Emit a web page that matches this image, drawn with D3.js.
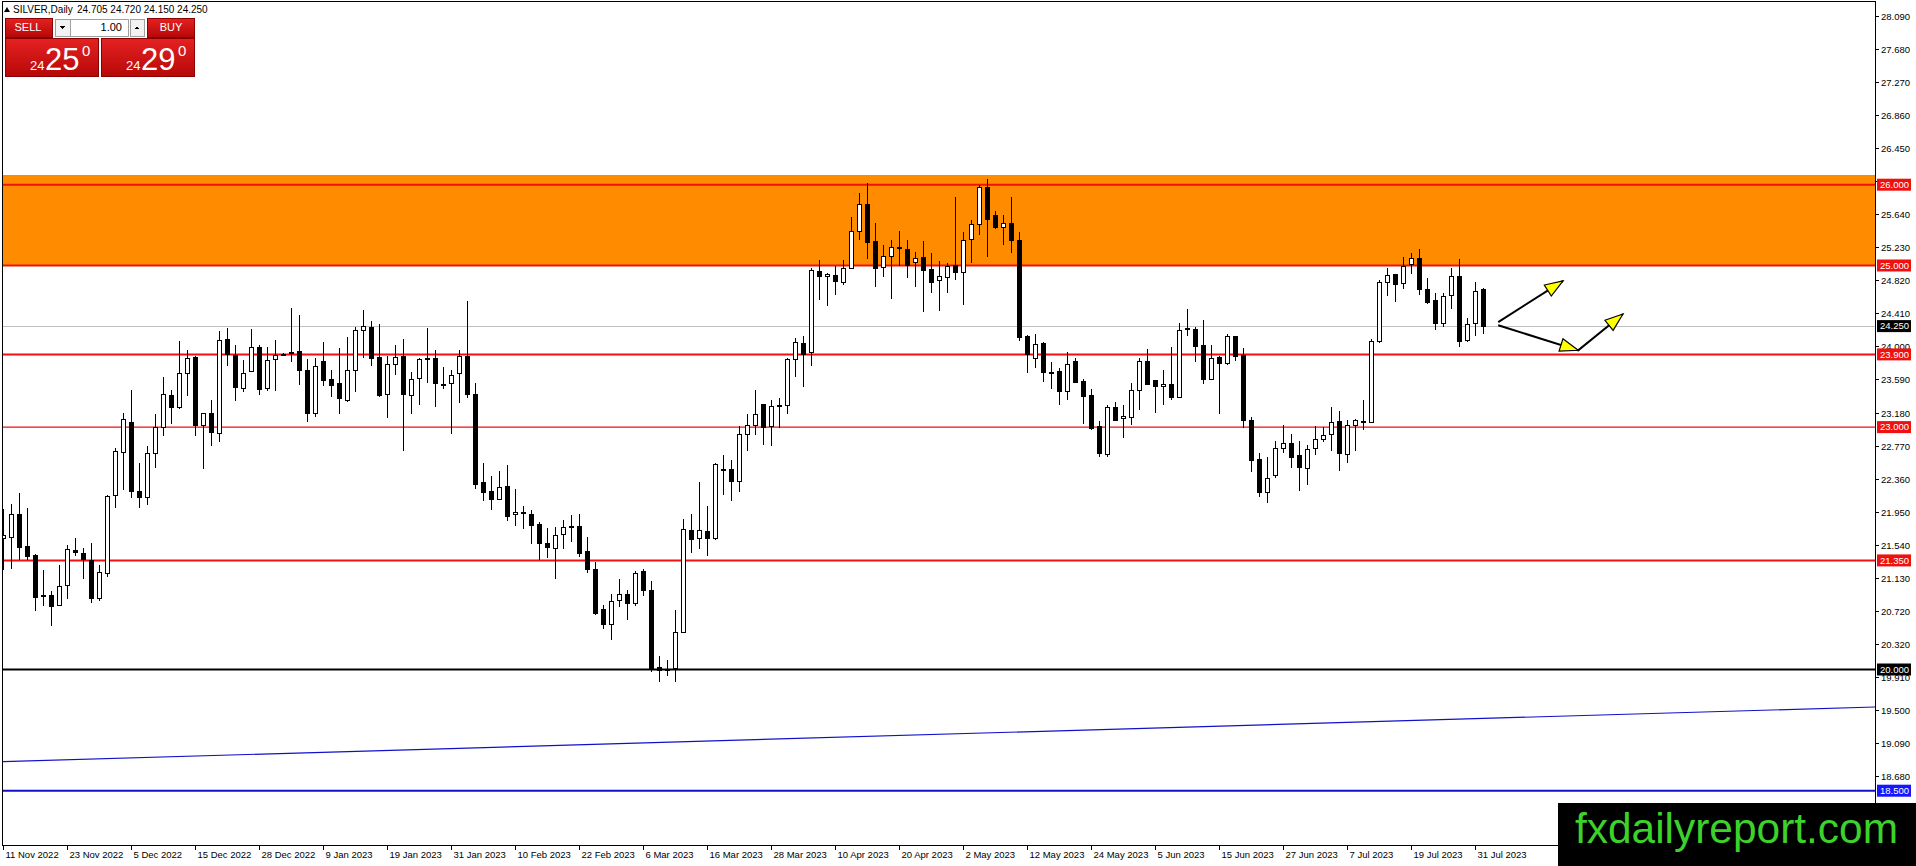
<!DOCTYPE html>
<html>
<head>
<meta charset="utf-8">
<script src="https://cdn.jsdelivr.net/npm/d3@7"></script>
<style>
  html, body { margin: 0; padding: 0; background: #ffffff; overflow: hidden; }
  svg { display: block; font-family: "Liberation Sans", Arial, sans-serif; }
</style>
</head>
<body>
<script>
// ---- data ----
const opens = [
  21.62, 21.64, 21.92, 21.53, 21.42, 20.92, 20.92, 20.79, 21.04, 21.48,
  21.44, 21.36, 20.89, 21.20, 22.15, 22.69, 23.06, 22.21, 22.14, 22.68,
  23.00, 23.40, 23.25, 23.67, 23.87, 23.02, 23.17, 22.93, 24.09, 23.89,
  23.49, 23.69, 23.99, 23.48, 23.84, 23.905, 23.93, 23.94, 23.71, 23.18,
  23.82, 23.60, 23.54, 23.34, 23.70, 24.20, 24.24, 23.87, 23.41, 23.78,
  23.88, 23.40, 23.60, 23.855, 23.86, 23.535, 23.55, 23.67, 23.88, 23.41,
  22.32, 22.21, 22.11, 22.27, 21.92, 21.945, 21.93, 21.80, 21.56, 21.51,
  21.67, 21.765, 21.78, 21.47, 21.25, 20.75, 20.56, 20.85, 20.94, 20.83,
  21.22, 20.99, 20.035, 20.00, 20.01, 20.47, 21.73, 21.63, 21.71, 21.63,
  22.485, 22.48, 22.34, 22.92, 23.03, 23.29, 23.01, 23.27, 23.27, 23.84,
  24.04, 23.92, 24.93, 24.87, 24.88, 24.80, 24.97, 25.43, 25.76, 25.30,
  24.98, 25.12, 25.225, 25.21, 25.04, 25.10, 24.96, 24.82, 24.86, 25.01,
  24.93, 25.32, 25.51, 25.97, 25.63, 25.48, 25.53, 25.32, 24.13, 23.86,
  24.04, 23.678, 23.69, 23.44, 23.82, 23.57, 23.40, 23.01, 22.67, 23.25,
  23.11, 23.13, 23.46, 23.82, 23.58, 23.51, 23.53, 23.37, 24.222, 24.22,
  24.02, 23.60, 23.87, 23.80, 24.13, 23.89, 23.09, 22.61, 22.20, 22.41,
  22.74, 22.80, 22.66, 22.50, 22.74, 22.85, 22.91, 23.08, 22.67, 23.03,
  23.072, 23.07, 24.07, 24.79, 24.90, 24.78, 25.01, 25.09, 24.71, 24.57,
  24.29, 24.63, 24.87, 24.07, 24.30, 24.705
];
const highs = [
  21.99, 22.05, 22.19, 22.00, 21.43, 21.23, 20.97, 21.29, 21.54, 21.63,
  21.50, 21.57, 21.29, 22.16, 22.74, 23.18, 23.46, 22.56, 22.77, 23.16,
  23.62, 23.46, 24.07, 23.96, 23.88, 23.18, 23.34, 24.19, 24.23, 24.02,
  23.83, 24.22, 24.02, 23.99, 24.08, 23.915, 24.47, 24.39, 23.84, 23.85,
  24.05, 23.71, 23.98, 24.12, 24.24, 24.45, 24.31, 24.28, 23.88, 24.02,
  24.09, 23.68, 23.86, 24.23, 23.96, 23.74, 23.71, 23.96, 24.56, 23.54,
  22.56, 22.40, 22.46, 22.53, 22.23, 22.02, 21.97, 21.82, 21.75, 21.76,
  21.85, 21.91, 21.92, 21.64, 21.33, 20.80, 20.94, 21.12, 20.98, 21.22,
  21.25, 21.09, 20.17, 20.12, 20.74, 21.86, 21.93, 22.32, 22.02, 22.56,
  22.66, 22.59, 23.01, 23.16, 23.46, 23.29, 23.33, 23.36, 23.85, 24.10,
  24.13, 24.97, 25.07, 24.91, 24.99, 25.07, 25.60, 25.90, 26.02, 25.53,
  25.25, 25.32, 25.43, 25.32, 25.17, 25.30, 25.15, 25.06, 25.03, 25.85,
  25.42, 25.56, 26.00, 26.07, 25.67, 25.63, 25.85, 25.41, 24.14, 24.15,
  24.05, 23.81, 23.73, 23.93, 23.86, 23.60, 23.47, 23.08, 23.27, 23.31,
  23.27, 23.55, 23.86, 23.97, 23.58, 23.71, 23.99, 24.29, 24.46, 24.24,
  24.33, 24.02, 23.88, 24.15, 24.13, 23.98, 23.12, 22.68, 22.63, 22.83,
  23.03, 22.92, 22.83, 22.78, 23.01, 23.00, 23.25, 23.20, 23.09, 23.10,
  23.34, 24.09, 24.82, 24.97, 24.90, 25.11, 25.16, 25.21, 24.85, 24.66,
  24.66, 24.97, 25.08, 24.35, 24.80, 24.72
];
const lows = [
  21.23, 21.25, 21.36, 21.36, 20.72, 20.79, 20.54, 20.78, 20.87, 21.41,
  21.12, 20.82, 20.85, 21.15, 22.00, 22.22, 22.12, 22.00, 22.04, 22.50,
  22.89, 23.04, 23.22, 23.38, 22.89, 22.48, 22.77, 22.82, 23.76, 23.32,
  23.44, 23.68, 23.40, 23.45, 23.45, 23.90, 23.81, 23.52, 23.06, 23.13,
  23.51, 23.37, 23.16, 23.31, 23.44, 23.86, 23.76, 23.37, 23.11, 23.65,
  22.70, 23.16, 23.27, 23.54, 23.25, 23.47, 22.91, 23.30, 23.36, 22.23,
  22.08, 21.97, 22.10, 21.84, 21.77, 21.74, 21.55, 21.36, 21.38, 21.12,
  21.49, 21.58, 21.39, 21.20, 20.67, 20.50, 20.36, 20.77, 20.61, 20.79,
  20.91, 19.97, 19.85, 19.92, 19.84, 20.46, 21.44, 21.49, 21.41, 21.60,
  22.16, 22.09, 22.20, 22.70, 22.90, 22.78, 22.77, 22.99, 23.16, 23.62,
  23.50, 23.76, 24.57, 24.50, 24.64, 24.76, 24.96, 25.32, 25.08, 24.74,
  24.86, 24.58, 25.00, 24.84, 24.73, 24.43, 24.66, 24.44, 24.66, 24.82,
  24.51, 25.03, 25.38, 25.10, 25.45, 25.25, 25.16, 24.07, 23.67, 23.73,
  23.56, 23.47, 23.27, 23.33, 23.54, 23.04, 22.96, 22.63, 22.63, 23.08,
  22.86, 23.03, 23.21, 23.53, 23.18, 23.27, 23.34, 23.36, 24.13, 23.81,
  23.53, 23.59, 23.16, 23.77, 23.82, 22.99, 22.44, 22.13, 22.06, 22.37,
  22.68, 22.50, 22.21, 22.28, 22.66, 22.81, 22.71, 22.46, 22.56, 22.70,
  22.96, 23.05, 24.04, 24.62, 24.55, 24.71, 24.90, 24.64, 24.52, 24.20,
  24.24, 24.46, 23.99, 24.05, 24.13, 24.15
];
const closes = [
  21.66, 21.93, 21.51, 21.41, 20.90, 20.91, 20.79, 21.03, 21.49, 21.45,
  21.36, 20.89, 21.21, 22.15, 22.70, 23.10, 22.20, 22.13, 22.68, 23.00,
  23.41, 23.25, 23.67, 23.86, 23.03, 23.17, 22.93, 24.08, 23.90, 23.50,
  23.67, 23.99, 23.47, 23.83, 23.89, 23.91, 23.935, 23.70, 23.18, 23.76,
  23.58, 23.52, 23.35, 23.71, 24.20, 24.25, 23.86, 23.40, 23.78, 23.87,
  23.41, 23.60, 23.84, 23.86, 23.55, 23.53, 23.65, 23.88, 23.41, 22.29,
  22.20, 22.11, 22.26, 21.90, 21.945, 21.935, 21.80, 21.56, 21.51, 21.67,
  21.76, 21.77, 21.45, 21.25, 20.70, 20.56, 20.85, 20.93, 20.83, 21.20,
  20.99, 20.02, 20.00, 20.01, 20.46, 21.74, 21.62, 21.73, 21.62, 22.54,
  22.48, 22.33, 22.92, 23.03, 23.16, 23.01, 23.26, 23.278, 23.84, 24.05,
  23.91, 24.94, 24.87, 24.90, 24.80, 24.97, 25.43, 25.76, 25.29, 24.97,
  25.12, 25.23, 25.218, 25.01, 25.09, 24.94, 24.80, 24.87, 24.99, 24.92,
  25.32, 25.51, 25.97, 25.58, 25.48, 25.53, 25.32, 24.12, 23.91, 24.03,
  23.68, 23.682, 23.44, 23.78, 23.56, 23.38, 22.99, 22.67, 23.25, 23.09,
  23.14, 23.46, 23.82, 23.54, 23.51, 23.53, 23.37, 24.20, 24.216, 24.01,
  23.60, 23.86, 23.80, 24.13, 23.88, 23.09, 22.60, 22.20, 22.37, 22.74,
  22.80, 22.63, 22.51, 22.73, 22.85, 22.90, 23.06, 22.68, 23.03, 23.09,
  23.066, 24.07, 24.80, 24.88, 24.78, 24.99, 25.09, 24.71, 24.55, 24.29,
  24.62, 24.87, 24.06, 24.27, 24.69, 24.25
];

// time axis: one label every 8 bars
const dateLabels = [
  "11 Nov 2022", "23 Nov 2022", "5 Dec 2022", "15 Dec 2022", "28 Dec 2022",
  "9 Jan 2023", "19 Jan 2023", "31 Jan 2023", "10 Feb 2023", "22 Feb 2023",
  "6 Mar 2023", "16 Mar 2023", "28 Mar 2023", "10 Apr 2023", "20 Apr 2023",
  "2 May 2023", "12 May 2023", "24 May 2023", "5 Jun 2023", "15 Jun 2023",
  "27 Jun 2023", "7 Jul 2023", "19 Jul 2023", "31 Jul 2023"
];
const dateLabelBars = [
  0, 8, 16, 24, 32, 40, 48, 56, 64, 72, 80, 88,
  96, 104, 112, 120, 128, 136, 144, 152, 160, 168, 176, 184
];

// price axis
const priceTicks = [
  28.09, 27.68, 27.27, 26.86, 26.45, 26.04, 25.64, 25.23, 24.82, 24.41,
  24.00, 23.59, 23.18, 22.77, 22.36, 21.95, 21.54, 21.13, 20.72, 20.32,
  19.91, 19.50, 19.09, 18.68, 18.27
];

// drawn objects
const redLevels = [26.0, 25.0, 23.9, 23.0, 21.35];
const blackLevels = [20.0];
const blueLevels = [18.5];
const zoneRange = [25.0, 26.12];
const trendLine = [[0, 18.86], [234, 19.536]];
const arrowUp = [[186.9, 24.30], [195.0, 24.81]];
const arrowDownUp = [[186.9, 24.26], [196.9, 23.95], [202.5, 24.40]];
const lastPrice = 24.25;

const symbolName = "SILVER,Daily";
const sellQuote = ["24", "25", "0"];
const buyQuote = ["24", "29", "0"];
const lotSize = "1.00";

// ---- layout ----
const W = 1916, H = 866;
const plotLeft = 3, plotRight = 1875, plotTop = 2, plotBottom = 845;
const RED = "#f01010", BLUE = "#1010c8", ORANGE = "#ff8c00";

const x = d3.scaleLinear().domain([0, 234]).range([3, 1875]);
const y = d3.scaleLinear().domain([25, 20]).range([265.5, 669.5]);

const svg = d3.select("body").append("svg")
  .attr("width", W).attr("height", H)
  .attr("viewBox", [0, 0, W, H]);

svg.append("rect").attr("width", W).attr("height", H).attr("fill", "#fff");

svg.append("defs").append("clipPath").attr("id", "plot")
  .append("rect")
  .attr("x", plotLeft).attr("y", plotTop)
  .attr("width", plotRight - plotLeft).attr("height", plotBottom - plotTop);

const plot = svg.append("g").attr("clip-path", "url(#plot)");

// orange resistance zone
plot.append("rect")
  .attr("x", plotLeft).attr("width", plotRight - plotLeft)
  .attr("y", y(zoneRange[1]))
  .attr("height", y(zoneRange[0]) - y(zoneRange[1]))
  .attr("fill", ORANGE);

// current price line
plot.append("line")
  .attr("x1", plotLeft).attr("x2", plotRight)
  .attr("y1", Math.round(y(lastPrice)) + 0.5).attr("y2", Math.round(y(lastPrice)) + 0.5)
  .attr("stroke", "#c0c0c0").attr("stroke-width", 1);

// horizontal levels
function hLine(p, color, width) {
  plot.append("line")
    .attr("x1", plotLeft).attr("x2", plotRight)
    .attr("y1", y(p)).attr("y2", y(p))
    .attr("stroke", color).attr("stroke-width", width);
}
redLevels.forEach((p) => hLine(p, RED, p === 23.0 ? 1.2 : 2));
blackLevels.forEach((p) => hLine(p, "#000", 2));
blueLevels.forEach((p) => hLine(p, BLUE, 2));

// trend line
plot.append("line")
  .attr("x1", x(trendLine[0][0])).attr("y1", y(trendLine[0][1]))
  .attr("x2", x(trendLine[1][0])).attr("y2", y(trendLine[1][1]))
  .attr("stroke", BLUE).attr("stroke-width", 1.2);

// candles
const bars = d3.range(opens.length).map((i) => ({
  i, o: opens[i], h: highs[i], l: lows[i], c: closes[i]
}));

const candles = plot.append("g")
  .attr("shape-rendering", "crispEdges")
  .selectAll("g").data(bars).join("g");

candles.append("line")
  .attr("x1", (d) => Math.round(x(d.i)) + 0.5)
  .attr("x2", (d) => Math.round(x(d.i)) + 0.5)
  .attr("y1", (d) => y(d.h)).attr("y2", (d) => y(d.l))
  .attr("stroke", "#000").attr("stroke-width", 1);

candles.append("rect")
  .attr("x", (d) => Math.round(x(d.i)) - 1.5)
  .attr("width", 4)
  .attr("y", (d) => Math.round(y(Math.max(d.o, d.c))) + 0.5)
  .attr("height", (d) => Math.max(1, Math.round(y(Math.min(d.o, d.c)) - y(Math.max(d.o, d.c)))))
  .attr("fill", (d) => (d.c >= d.o ? "#fff" : "#000"))
  .attr("stroke", "#000").attr("stroke-width", 1);

// arrows
function arrow(points) {
  const line = d3.line().x((d) => x(d[0])).y((d) => y(d[1]));
  plot.append("path").attr("d", line(points))
    .attr("fill", "none").attr("stroke", "#000").attr("stroke-width", 2);
  for (let k = 1; k < points.length; k++) {
    const x0 = x(points[k - 1][0]), y0 = y(points[k - 1][1]);
    const x1 = x(points[k][0]), y1 = y(points[k][1]);
    const a = Math.atan2(y1 - y0, x1 - x0);
    const len = 18, half = 6.5;
    const bx = x1 - len * Math.cos(a), by = y1 - len * Math.sin(a);
    const pts = [
      [x1, y1],
      [bx + half * Math.sin(a), by - half * Math.cos(a)],
      [bx - half * Math.sin(a), by + half * Math.cos(a)]
    ];
    plot.append("polygon").attr("points", pts.map((p) => p.join(",")).join(" "))
      .attr("fill", "#ffff00").attr("stroke", "#000").attr("stroke-width", 1.2);
  }
}
arrow(arrowUp);
arrow(arrowDownUp);

// frame
svg.append("g").attr("shape-rendering", "crispEdges")
  .call((g) => {
    g.append("line").attr("x1", 2.5).attr("x2", 2.5).attr("y1", 1).attr("y2", plotBottom + 0.5).attr("stroke", "#000");
    g.append("line").attr("x1", 2).attr("x2", plotRight + 0.5).attr("y1", 1.5).attr("y2", 1.5).attr("stroke", "#000");
    g.append("line").attr("x1", plotRight + 0.5).attr("x2", plotRight + 0.5).attr("y1", 1).attr("y2", plotBottom + 1).attr("stroke", "#000");
    g.append("line").attr("x1", 2).attr("x2", plotRight + 1).attr("y1", plotBottom + 0.5).attr("y2", plotBottom + 0.5).attr("stroke", "#000");
  });

// price axis
const priceAxis = svg.append("g");
priceTicks.forEach((p) => {
  const py = Math.round(y(p)) + 0.5;
  priceAxis.append("line").attr("x1", plotRight).attr("x2", plotRight + 4)
    .attr("y1", py).attr("y2", py).attr("stroke", "#000").attr("shape-rendering", "crispEdges");
  priceAxis.append("text").attr("x", plotRight + 6).attr("y", py).attr("dy", "0.35em")
    .attr("font-size", 9.5).attr("fill", "#000").text(p.toFixed(3));
});

// price tags for the drawn levels (drawn over the tick labels, as in the terminal)
function priceTag(p, bg) {
  const py = y(p);
  priceAxis.append("rect").attr("x", plotRight + 2).attr("y", py - 6)
    .attr("width", 34).attr("height", 12).attr("fill", bg);
  priceAxis.append("text").attr("x", plotRight + 5).attr("y", py).attr("dy", "0.35em")
    .attr("font-size", 9.5).attr("fill", "#fff").text(p.toFixed(3));
}
redLevels.forEach((p) => priceTag(p, RED));
blackLevels.forEach((p) => priceTag(p, "#000"));
blueLevels.forEach((p) => priceTag(p, "#1515ff"));
priceTag(lastPrice, "#000");

// time axis
const timeAxis = svg.append("g");
dateLabelBars.forEach((b, k) => {
  const tx = Math.round(x(b)) + 0.5;
  timeAxis.append("line").attr("x1", tx).attr("x2", tx)
    .attr("y1", plotBottom).attr("y2", plotBottom + 5)
    .attr("stroke", "#000").attr("shape-rendering", "crispEdges");
  timeAxis.append("text").attr("x", tx + 2).attr("y", plotBottom + 13)
    .attr("font-size", 9.5).attr("fill", "#000").text(dateLabels[k]);
});

// header
const last = opens.length - 1;
svg.append("polygon").attr("points", "4,12 7,7 10,12").attr("fill", "#000");
svg.append("text").attr("x", 13).attr("y", 13).attr("font-size", 10).attr("fill", "#000")
  .text(symbolName);
svg.append("text").attr("x", 77).attr("y", 13).attr("font-size", 10).attr("fill", "#000")
  .text([opens[last], highs[last], lows[last], closes[last]].map((v) => v.toFixed(3)).join(" "));

// one-click trading panel
const grad = svg.select("defs").append("linearGradient")
  .attr("id", "redGrad").attr("x1", 0).attr("x2", 0).attr("y1", 0).attr("y2", 1);
grad.append("stop").attr("offset", 0).attr("stop-color", "#e52222");
grad.append("stop").attr("offset", 1).attr("stop-color", "#b80808");

const panel = svg.append("g").attr("shape-rendering", "crispEdges");
panel.append("rect").attr("x", 5).attr("y", 18).attr("width", 47).attr("height", 19)
  .attr("fill", "url(#redGrad)").attr("stroke", "#8a0000");
panel.append("text").attr("x", 28).attr("y", 31).attr("text-anchor", "middle")
  .attr("font-size", 11).attr("fill", "#fff").text("SELL");
panel.append("rect").attr("x", 55).attr("y", 19).attr("width", 15).attr("height", 17)
  .attr("fill", "#f2f2f2").attr("stroke", "#a0a0a0");
panel.append("polygon").attr("points", "60,26 65,26 62.5,29").attr("fill", "#000");
panel.append("rect").attr("x", 70).attr("y", 19).attr("width", 58).attr("height", 17)
  .attr("fill", "#fff").attr("stroke", "#a0a0a0");
panel.append("text").attr("x", 122).attr("y", 31).attr("text-anchor", "end")
  .attr("font-size", 11).attr("fill", "#000").text(lotSize);
panel.append("rect").attr("x", 130).attr("y", 19).attr("width", 14).attr("height", 17)
  .attr("fill", "#f2f2f2").attr("stroke", "#a0a0a0");
panel.append("polygon").attr("points", "134.5,29 139.5,29 137,26").attr("fill", "#000");
panel.append("rect").attr("x", 147).attr("y", 18).attr("width", 47).attr("height", 19)
  .attr("fill", "url(#redGrad)").attr("stroke", "#8a0000");
panel.append("text").attr("x", 171).attr("y", 31).attr("text-anchor", "middle")
  .attr("font-size", 11).attr("fill", "#fff").text("BUY");

function quoteBox(x0, q) {
  panel.append("rect").attr("x", x0).attr("y", 38).attr("width", 93).attr("height", 38)
    .attr("fill", "url(#redGrad)").attr("stroke", "#8a0000");
  svg.append("text").attr("x", x0 + 25).attr("y", 70).attr("font-size", 13)
    .attr("fill", "#fff").text(q[0]);
  svg.append("text").attr("x", x0 + 40).attr("y", 70).attr("font-size", 31)
    .attr("fill", "#fff").text(q[1]);
  svg.append("text").attr("x", x0 + 77).attr("y", 56).attr("font-size", 15)
    .attr("fill", "#fff").text(q[2]);
}
quoteBox(5, sellQuote);
quoteBox(101, buyQuote);

// watermark
svg.append("rect").attr("x", 1558).attr("y", 803).attr("width", W - 1558).attr("height", H - 803)
  .attr("fill", "#000");
svg.append("text").attr("x", 1575).attr("y", 843)
  .attr("font-size", 42).attr("fill", "#3dd22b")
  .attr("textLength", 323).attr("lengthAdjust", "spacingAndGlyphs")
  .text("fxdailyreport.com");
</script>
</body>
</html>
